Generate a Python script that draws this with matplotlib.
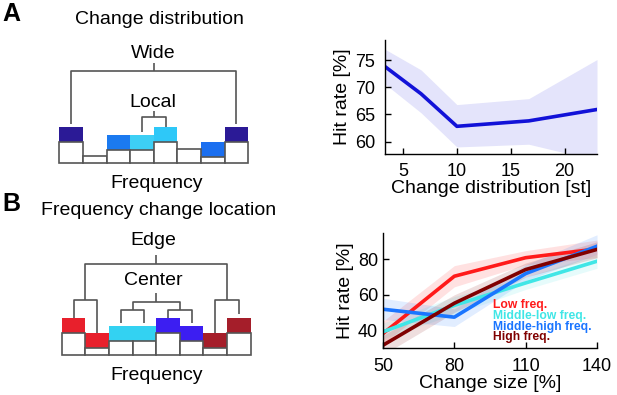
import matplotlib
matplotlib.use("Agg")
import matplotlib.pyplot as plt

plt.rcParams['font.family'] = ['Liberation Sans', 'DejaVu Sans']

# --- schematic A: change distribution ---
a_white = [3.0, 1.0, 1.85, 1.85, 3.0, 1.95, 0.9, 3.0]
a_block = ['#2b1a96', None, '#1b7af0', '#3dcff5', '#2ec8f8', None, '#1b6ff0', '#2b1a96']
# --- schematic B: frequency change location ---
b_white = [3.0, 0.93, 1.94, 1.94, 3.0, 1.94, 0.93, 3.0]
b_block = ['#e8202c', '#e8202c', '#33d2f2', '#33d2f2', '#3c1ef2', '#3c1ef2', '#a51e2a', '#a51e2a']
block_h = 2.1

# --- hit rate vs change distribution ---
dist_x = [3.33, 6.67, 10, 16.67, 23]
dist_mean = [73.8, 68.8, 62.8, 63.8, 65.9]
dist_lo = [70.6, 65.3, 59.0, 59.5, 56.5]
dist_hi = [77.0, 73.2, 66.8, 67.9, 75.1]

# --- hit rate vs change size per frequency location ---
size_x = [50, 80, 110, 140]
names = ['Low freq.', 'Middle-low freq.', 'Middle-high freq.', 'High freq.']
colors = ['#ff1a1a', '#40e6e6', '#1a75ff', '#800000']
means = [[38, 70.5, 81, 86],
         [39, 54, 66.7, 79],
         [51.8, 47.3, 72, 87.5],
         [31.4, 55.2, 74.3, 85.7]]
lows = [[32, 64.5, 77, 81],
        [35, 49, 63, 75],
        [46, 42, 68, 83],
        [26, 50, 70, 81]]
highs = [[45, 76.5, 85, 91],
         [44, 59, 70, 83],
         [58, 52, 77, 94],
         [37, 60, 78, 90]]

W, H = 617, 395
fig = plt.figure(figsize=(W / 100, H / 100), dpi=100)


def px_axes(l, t, r, b):
    return fig.add_axes([l / W, 1 - b / H, (r - l) / W, (b - t) / H])


def ftext(x, y, s, **kw):
    fig.text(x / W, 1 - y / H, s, ha='center', va='center', **kw)


def schematic(ax, white, block):
    n = len(white)
    xs = list(range(n))
    for i in xs:
        if block[i]:
            ax.bar(i, block_h, bottom=white[i], width=1, color=block[i],
                   edgecolor='none', zorder=1)
    ax.bar(xs, white, width=1, color='white', edgecolor='#555555',
           linewidth=1.2, zorder=2, clip_on=False)
    ax.set_xlim(-0.5, n - 0.5)
    ax.set_ylim(-0.5, 17)
    ax.axis('off')


def top(white, block, i):
    return white[i] + (block_h if block[i] else 0)


def bracket(ax, xl, xr, yl, yr, ybar, ystub=None):
    kw = dict(color='#555555', lw=1.2, solid_capstyle='butt')
    ax.plot([xl, xl, xr, xr], [yl, ybar, ybar, yr], **kw)
    if ystub is not None:
        xm = (xl + xr) / 2
        ax.plot([xm, xm], [ybar, ystub], **kw)


gap = 0.35

# panel A schematic
axa = px_axes(59.3, 40.9, 248.1, 166.9)
schematic(axa, a_white, a_block)
bracket(axa, 0, 7, top(a_white, a_block, 0) + gap, top(a_white, a_block, 7) + gap, 12.8, 13.9)
bracket(axa, 3, 4, top(a_white, a_block, 3) + gap, top(a_white, a_block, 4), 6.43, 7.26)
axa.text(3.5, 15.3, 'Wide', ha='center', va='center', fontsize=14)
axa.text(3.45, 8.4, 'Local', ha='center', va='center', fontsize=14)

# panel B schematic
axb = px_axes(61.7, 232.6, 250.5, 358.6)
schematic(axb, b_white, b_block)
bracket(axb, 0.5, 6.5, 7.64, 7.64, 12.7, 13.9)
bracket(axb, 0, 1, top(b_white, b_block, 0), top(b_white, b_block, 1), 7.64)
bracket(axb, 6, 7, top(b_white, b_block, 6), top(b_white, b_block, 7) + 0.6, 7.64)
bracket(axb, 2.5, 4.5, 6.25, 6.25, 7.4, 8.65)
bracket(axb, 2, 3, top(b_white, b_block, 2) + gap, top(b_white, b_block, 3) + gap, 6.25)
bracket(axb, 4, 5, top(b_white, b_block, 4) + 0.05, top(b_white, b_block, 5) + gap, 6.25)
axb.text(3.4, 15.9, 'Edge', ha='center', va='center', fontsize=14)
axb.text(3.4, 10.3, 'Center', ha='center', va='center', fontsize=14)

ftext(11, 14, 'A', fontsize=18, fontweight='bold')
ftext(11, 204, 'B', fontsize=18, fontweight='bold')
ftext(159, 19, 'Change distribution', fontsize=14)
ftext(157, 183, 'Frequency', fontsize=14)
ftext(159, 210.7, 'Frequency change location', fontsize=14)
ftext(156.7, 375, 'Frequency', fontsize=14)


def style(ax, xpad, ypad):
    for s in ['top', 'right']:
        ax.spines[s].set_visible(False)
    for s in ['left', 'bottom']:
        ax.spines[s].set_linewidth(1.0)
    ax.tick_params(direction='in', labelsize=13, length=4, width=1.0)
    ax.tick_params(axis='x', pad=xpad)
    ax.tick_params(axis='y', pad=ypad)


# hit rate vs change distribution
ax1 = px_axes(385, 40, 597, 154)
ax1.fill_between(dist_x, dist_lo, dist_hi, color='#e4e4fb', lw=0)
ax1.plot(dist_x, dist_mean, color='#1212d8', lw=2.6)
ax1.set_xlim(3.33, 23)
ax1.set_ylim(57.7, 78.7)
ax1.set_xticks([5, 10, 15, 20])
ax1.set_yticks([60, 65, 70, 75])
style(ax1, 6.5, 7)
ax1.set_xlabel('Change distribution [st]', fontsize=14, labelpad=0)
ax1.set_ylabel('Hit rate [%]', fontsize=14, labelpad=3)

# hit rate vs change size
ax2 = px_axes(383, 233, 597, 347.7)
for lo, hi, c in zip(lows, highs, colors):
    ax2.fill_between(size_x, lo, hi, color=c, alpha=0.13, lw=0)
for m, c in zip(means, colors):
    ax2.plot(size_x, m, color=c, lw=2.6)
ax2.set_xlim(50, 140)
ax2.set_ylim(30, 95)
ax2.set_xticks(size_x)
ax2.set_yticks([40, 60, 80])
style(ax2, 7.5, 3.5)
ax2.set_xlabel('Change size [%]', fontsize=14, labelpad=0)
ax2.set_ylabel('Hit rate [%]', fontsize=14, labelpad=3)
for k, (name, c) in enumerate(zip(names, colors)):
    ax2.text(0.514, 0.372 - k * 0.094, name, transform=ax2.transAxes, color=c,
             fontsize=8.7, fontweight='bold', ha='left', va='center')

fig.savefig('out.png', dpi=100)
